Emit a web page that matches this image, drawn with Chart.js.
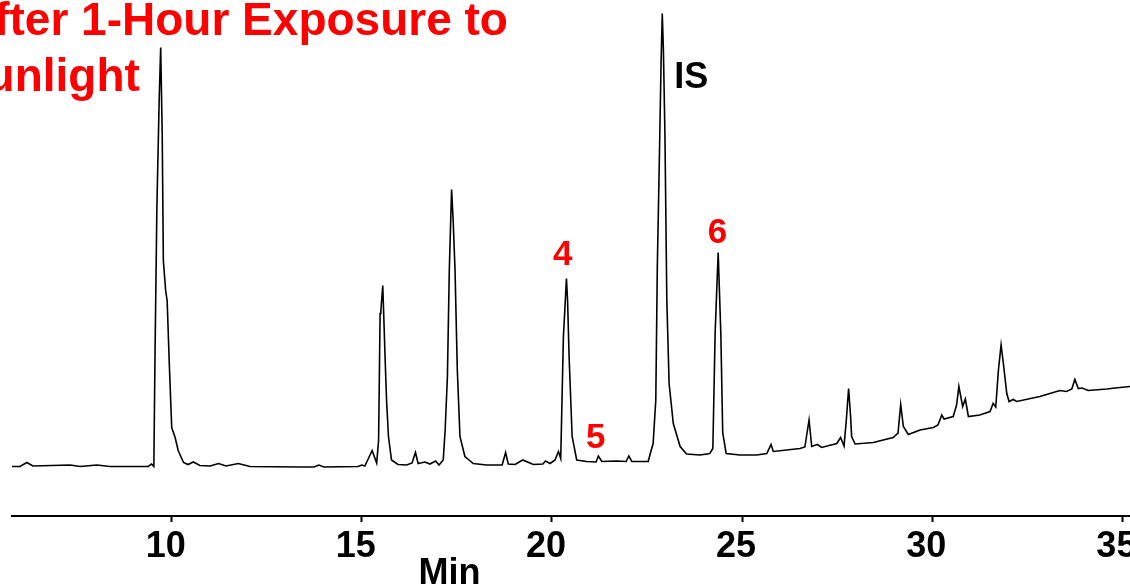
<!DOCTYPE html>
<html>
<head>
<meta charset="utf-8">
<title>Chromatogram after 1-hour exposure to sunlight</title>
<script src="https://cdn.jsdelivr.net/npm/chart.js@4.4.1/dist/chart.umd.min.js"></script>
<style>
    html, body { margin: 0; padding: 0; background: #fff; overflow: hidden; }
    #wrap { position: relative; width: 1130px; height: 585px; }
</style>
</head>
<body>
<div id="wrap"><canvas id="chromatogram"></canvas></div>
<script>
// Retention time (min) and detector response (arbitrary units, baseline = 0)
const retentionTime = [
    5.80, 6.01, 6.19, 6.35, 7.33, 7.59, 8.03, 8.38, 9.38, 9.47,
    9.53, 9.56, 9.61, 9.67, 9.71, 9.75, 9.78, 9.84, 9.88, 9.94,
    10.00, 10.09, 10.17, 10.31, 10.43, 10.57, 10.74, 11.01, 11.23, 11.43,
    11.75, 12.06, 13.37, 13.74, 13.87, 14.00, 14.43, 14.90, 15.00, 15.08,
    15.27, 15.39, 15.44, 15.48, 15.50, 15.55, 15.58, 15.61, 15.65, 15.70,
    15.78, 15.95, 16.18, 16.32, 16.41, 16.48, 16.66, 16.79, 16.94, 17.03,
    17.14, 17.19, 17.25, 17.30, 17.36, 17.40, 17.45, 17.51, 17.58, 17.71,
    17.93, 18.28, 18.69, 18.78, 18.85, 19.03, 19.23, 19.42, 19.51, 19.76,
    19.83, 19.95, 20.08, 20.17, 20.23, 20.30, 20.33, 20.38, 20.41, 20.45,
    20.53, 20.65, 20.91, 21.16, 21.22, 21.31, 21.70, 21.95, 22.02, 22.10,
    22.53, 22.60, 22.66, 22.73, 22.77, 22.82, 22.87, 22.90, 22.93, 22.97,
    23.02, 23.08, 23.19, 23.37, 23.54, 23.89, 24.15, 24.23, 24.29, 24.37,
    24.44, 24.49, 24.58, 24.94, 25.38, 25.65, 25.76, 25.82, 26.52, 26.65,
    26.76, 26.83, 26.98, 27.09, 27.49, 27.59, 27.68, 27.74, 27.80, 27.85,
    27.88, 27.97, 28.45, 28.97, 29.10, 29.17, 29.24, 29.37, 29.68, 30.03,
    30.15, 30.25, 30.31, 30.55, 30.64, 30.70, 30.80, 30.87, 30.95, 31.25,
    31.52, 31.60, 31.67, 31.74, 31.81, 31.87, 31.96, 32.02, 32.13, 32.22,
    32.83, 33.27, 33.36, 33.53, 33.67, 33.75, 33.84, 33.94, 34.10, 34.59,
    34.81, 35.20
];
const response = [
    0, 0, 4, 0.5, 1.5, 0, 1.5, 0, 0, 2.5,
    0, 109, 259, 366, 419, 333, 206, 176, 166, 99,
    39, 29, 16, 4, 2, 4.5, 1, 0.5, 3, 0.5,
    3, 0, -0.5, -0.5, 1.5, -0.5, -0.2, 0, 1.5, 0.5,
    16, 3.5, 26, 153, 156, 181, 146, 110, 66, 30,
    6.5, 2, 1.5, 3.5, 14, 3, 4.5, 2.5, 5.5, 1.5,
    6.5, 36, 90, 197, 277, 247, 197, 97, 30, 10,
    3, 1.5, 1.5, 14, 2.5, 2, 6.5, 3.5, 2, 2.5,
    5.5, 3, 6.5, 15, 8, 130, 151, 188, 166, 110,
    30, 6.5, 5, 4.5, 10.5, 5, 5.5, 5, 10.5, 5,
    5, 15, 23, 66.5, 200, 300, 406, 453, 416, 333,
    166, 83, 43, 20, 12.5, 11.5, 13, 18, 133, 214,
    133, 33.5, 13, 11.5, 11.5, 13, 22, 15, 18, 19.5,
    46.5, 20, 22, 19, 23, 29, 20.5, 46.5, 78, 51.5,
    30, 22.5, 24, 29, 33.5, 62, 40, 32, 36.5, 39,
    41.5, 51.5, 47.5, 50, 61.5, 80, 60, 67.5, 50, 51.5,
    55, 63, 59.5, 96.5, 121.5, 103, 73, 65, 67, 65,
    70, 75, 76, 75, 77.5, 87, 78, 78.5, 76, 77.5,
    78.5, 80
];

const tickValues = [10, 15, 20, 25, 30, 35];

// Peak labels, placed at (time, response) of the text baseline centre
const peakNames = ['4', '5', 'IS', '6'];
const peakTime = [20.28, 21.15, 23.66, 24.35];
const peakResponse = [201.5, 18.2, 378.2, 223.2];

const titleLines = ['After 1-Hour Exposure to', 'sunlight'];
const axisCaption = 'Min';

const FONT = '"Liberation Sans", Arial, Helvetica, sans-serif';

const labelsPlugin = {
    id: 'chromLabels',
    afterDatasetsDraw(chart) {
        const { ctx, scales: { x, y } } = chart;
        ctx.save();
        ctx.textAlign = 'center';
        ctx.textBaseline = 'alphabetic';
        peakNames.forEach((name, i) => {
            const isStd = name === 'IS';
            ctx.font = `bold ${isStd ? 36 : 35}px ${FONT}`;
            ctx.fillStyle = isStd ? '#000000' : '#ff0000';
            ctx.fillText(name, x.getPixelForValue(peakTime[i]), y.getPixelForValue(peakResponse[i]));
        });

        // the figure title runs off the left edge in the original crop
        ctx.textAlign = 'left';
        ctx.font = `bold 46px ${FONT}`;
        ctx.fillStyle = '#ff0000';
        titleLines.forEach((line, i) => ctx.fillText(line, -39, 35 + i * 56));

        ctx.textAlign = 'center';
        ctx.font = `bold 36px ${FONT}`;
        ctx.fillStyle = '#000000';
        ctx.fillText(axisCaption, 449.5, 584);
        ctx.restore();
    }
};

const ctx = document.getElementById('chromatogram').getContext('2d');
new Chart(ctx, {
    type: 'line',
    data: {
        datasets: [{
            data: retentionTime.map((t, i) => ({ x: t, y: response[i] })),
            borderColor: '#000000',
            borderWidth: 1.6,
            pointRadius: 0,
            tension: 0,
            fill: false
        }]
    },
    options: {
        responsive: true,
        maintainAspectRatio: false,
        animation: false,
        layout: { padding: { left: 12, right: 0, top: 0, bottom: 0 }, autoPadding: false },
        plugins: { legend: { display: false }, tooltip: { enabled: false }, title: { display: false } },
        scales: {
            x: {
                type: 'linear',
                min: 5.8,
                max: 35.2,
                afterBuildTicks: s => { s.ticks = tickValues.map(v => ({ value: v })); },
                afterFit: s => {
                    // fixed axis band; the last label is allowed to run off the edge like the original
                    s.height = 69;
                    s.paddingLeft = 0;
                    s.paddingRight = 0;
                },
                grid: { drawOnChartArea: false, tickLength: 6, tickWidth: 2, tickColor: '#000000' },
                border: { display: true, color: '#000000', width: 2 },
                ticks: {
                    color: '#000000',
                    font: { family: FONT, size: 36, weight: 'bold' },
                    padding: 3,
                    labelOffset: -6,
                    maxRotation: 0,
                    autoSkip: false
                }
            },
            y: {
                display: false,
                min: -49.5,
                max: 466.5
            }
        }
    },
    plugins: [labelsPlugin]
});
</script>
</body>
</html>
